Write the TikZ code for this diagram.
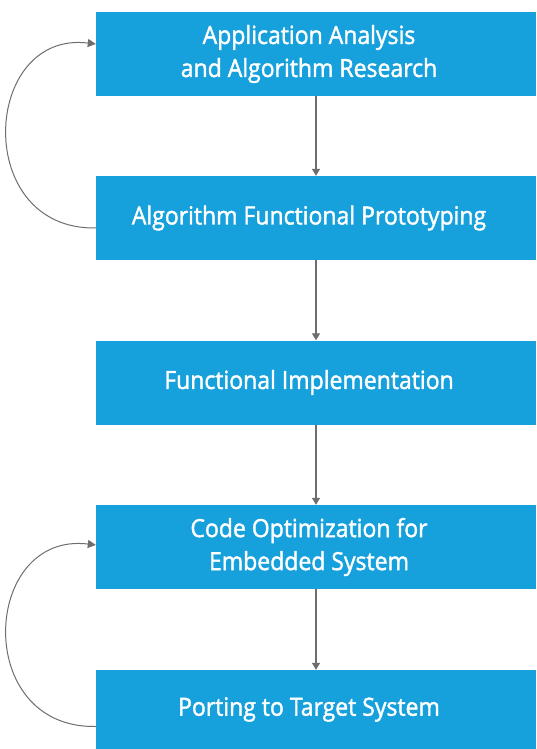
\documentclass[tikz,border=0pt]{standalone}
\usepackage{fontspec}
\setmainfont{Open Sans}[FakeStretch=0.92, FakeBold=1.6]
\usetikzlibrary{arrows.meta}
\definecolor{boxblue}{RGB}{22,160,220}
\definecolor{linegray}{RGB}{110,110,110}
\newcommand{\txtnudge}{\hspace*{-14pt}}
\begin{document}
\begin{tikzpicture}[x=1pt,y=1pt,
  stagebox/.style={rectangle, fill=boxblue, draw=none, minimum width=440pt,
    minimum height=84pt, inner sep=0pt, align=center, text=white,
    font=\fontsize{25}{33}\selectfont},
  flow/.style={draw=linegray, line width=1.3pt, -{Triangle[width=8pt,length=7pt]}},
  loopback/.style={draw=linegray, line width=1pt, -{Triangle[width=8pt,length=8pt]}}]
\useasboundingbox[fill=white] (0,0) rectangle (536,-749);
\node[stagebox] (b1) at (316,-54) {\txtnudge Application Analysis\\ \txtnudge and Algorithm Research};
\node[stagebox] (b2) at (316,-218) {\txtnudge Algorithm Functional Prototyping};
\node[stagebox] (b3) at (316,-382.5) {\txtnudge Functional Implementation};
\node[stagebox] (b4) at (316,-547) {\txtnudge Code Optimization for\\ \txtnudge Embedded System};
\node[stagebox, minimum height=79pt] (b5) at (316,-709.5) {\txtnudge Porting to Target System};
\draw[flow] (b1) -- (b2);
\draw[flow] (b2) -- (b3);
\draw[flow] (b3) -- (b4);
\draw[flow] (b4) -- (b5);
\draw[loopback] ([yshift=-10pt]b2.west) .. controls +(-124,-2) and +(-114,14) .. ([yshift=10pt]b1.west);
\draw[loopback] ([yshift=-17pt]b5.west) .. controls +(-124,-2) and +(-114,14) .. ([yshift=2pt]b4.west);
\end{tikzpicture}
\end{document}
